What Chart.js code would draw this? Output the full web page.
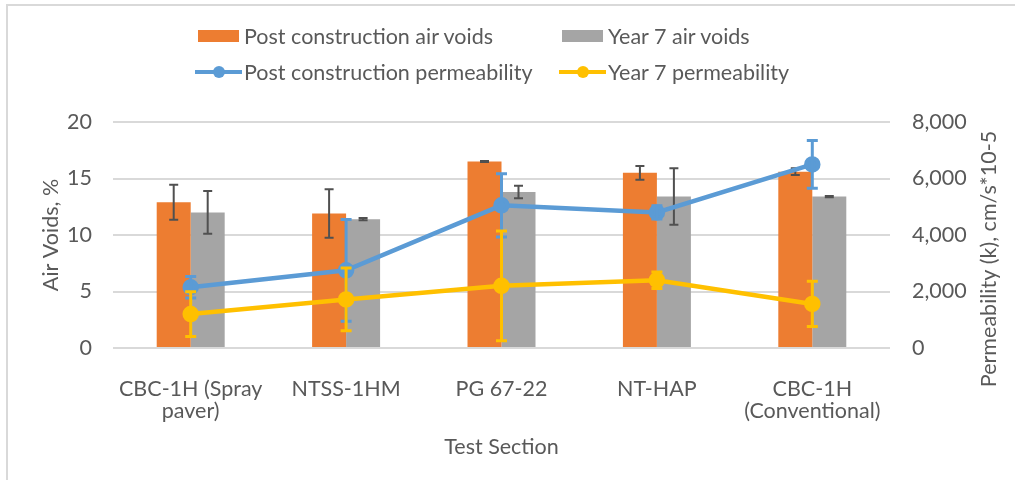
<!DOCTYPE html>
<html>
<head>
<meta charset="utf-8">
<script src="https://cdn.jsdelivr.net/npm/chart.js@4.4.1/dist/chart.umd.min.js"></script>
<style>
  body { margin: 0; background: #fff; }
  #wrap { position: relative; width: 1015px; height: 480px; overflow: hidden; }
  #frame { position: absolute; left: 6px; top: 4px; right: -4px; bottom: -4px;
           border-top: 2px solid #d9d9d9; border-left: 2px solid #d9d9d9; }
  #legend { position: absolute; left: 0; top: 0; font-family: Lato; font-size: 21.5px; color: #595959; }
  .item { position: absolute; display: flex; align-items: center; height: 26px; white-space: nowrap; }
  .box { width: 41px; height: 12px; margin: 0 5px 0 3px; }
  .ln { position: relative; width: 47px; height: 12px; margin-right: 2px; }
  .ln i { position: absolute; left: 0; right: 0; top: 4px; height: 4px; }
  .ln b { position: absolute; left: 18px; top: 0; width: 12px; height: 12px; border-radius: 50%; }
  canvas { position: absolute; left: 0; top: 0; }
</style>
</head>
<body>
<div id="wrap">
  <div id="frame"></div>
  <canvas id="chart" width="1015" height="480"></canvas>
  <div id="legend"></div>
</div>
<script>
// values
const categories = [['CBC-1H (Spray', 'paver)'], 'NTSS-1HM', 'PG 67-22', 'NT-HAP', ['CBC-1H', '(Conventional)']];
const postVoids = [12.9, 11.9, 16.5, 15.5, 15.6];
const postVoidsErr = [1.55, 2.15, 0.05, 0.6, 0.3];
const y7Voids = [12.0, 11.4, 13.8, 13.4, 13.4];
const y7VoidsErr = [1.9, 0.1, 0.55, 2.5, 0.05];
const postPerm = [2150, 2750, 5050, 4800, 6500];
const postPermErr = [380, 1800, 1120, 235, 845];
const y7Perm = [1200, 1720, 2200, 2400, 1560];
const y7PermErr = [790, 1110, 1940, 290, 800];
const voidTicks = [0, 5, 10, 15, 20];
const permTicks = [0, 2000, 4000, 6000, 8000];

const FONT = 'Lato';
const TEXT = '#595959';
const SIZE = 21.5;

// error bars drawn right after each dataset, so layering follows the datasets
const errorBars = {
    id: 'errorBars',
    afterDatasetDraw(chart, args) {
        const ds = chart.data.datasets[args.index];
        if (!ds.errors) return;
        const scale = chart.scales[ds.yAxisID];
        const ctx = chart.ctx;
        ctx.save();
        ctx.strokeStyle = ds.errorColor;
        ctx.lineWidth = ds.errorWidth;
        args.meta.data.forEach(function(el, i) {
            const v = ds.data[i], e = ds.errors[i], c = ds.errorCap;
            const top = scale.getPixelForValue(v + e);
            const bot = scale.getPixelForValue(v - e);
            ctx.beginPath();
            ctx.moveTo(el.x, top); ctx.lineTo(el.x, bot);
            ctx.moveTo(el.x - c, top); ctx.lineTo(el.x + c, top);
            ctx.moveTo(el.x - c, bot); ctx.lineTo(el.x + c, bot);
            ctx.stroke();
        });
        ctx.restore();
    }
};

// right axis title reads bottom-to-top like the left one
const rightTitle = {
    id: 'rightTitle',
    afterDraw(chart) {
        const s = chart.scales.y1;
        const ctx = chart.ctx;
        ctx.save();
        ctx.translate(s.right - 26, (s.top + s.bottom) / 2 + 24);
        ctx.rotate(-Math.PI / 2);
        ctx.font = SIZE + 'px ' + FONT;
        ctx.fillStyle = TEXT;
        ctx.textAlign = 'center';
        ctx.textBaseline = 'middle';
        ctx.fillText(s.options.titleText, 0, 0);
        ctx.restore();
    }
};

const chart = new Chart(document.getElementById('chart'), {
    type: 'bar',
    data: {
        labels: categories,
        datasets: [
            {
                label: 'Post construction air voids',
                data: postVoids,
                errors: postVoidsErr,
                errorColor: '#505050', errorWidth: 2, errorCap: 4.5,
                backgroundColor: '#ED7D31',
                yAxisID: 'y',
                order: 2
            },
            {
                label: 'Year 7 air voids',
                data: y7Voids,
                errors: y7VoidsErr,
                errorColor: '#505050', errorWidth: 2, errorCap: 4.5,
                backgroundColor: '#A5A5A5',
                yAxisID: 'y',
                order: 2
            },
            {
                type: 'line',
                label: 'Post construction permeability',
                data: postPerm,
                errors: postPermErr,
                errorColor: '#5B9BD5', errorWidth: 3, errorCap: 5.5,
                borderColor: '#5B9BD5',
                backgroundColor: '#5B9BD5',
                borderWidth: 4.5,
                pointRadius: 6,
                yAxisID: 'y1',
                order: 1
            },
            {
                type: 'line',
                label: 'Year 7 permeability',
                data: y7Perm,
                errors: y7PermErr,
                errorColor: '#FFC000', errorWidth: 3, errorCap: 5.5,
                borderColor: '#FFC000',
                backgroundColor: '#FFC000',
                borderWidth: 4.5,
                pointRadius: 6,
                yAxisID: 'y1',
                order: 0
            }
        ]
    },
    options: {
        responsive: false,
        animation: false,
        layout: { padding: { top: 122, left: 0, right: 0, bottom: 0 } },
        datasets: {
            bar: { categoryPercentage: 0.4375, barPercentage: 1 }
        },
        plugins: {
            legend: { display: false },
            tooltip: { enabled: false }
        },
        scales: {
            x: {
                grid: { display: false },
                border: { display: false },
                ticks: {
                    color: TEXT, font: { family: FONT, size: SIZE, lineHeight: 1.03 },
                    maxRotation: 0, autoSkip: false, padding: 22
                },
                title: {
                    display: true, text: 'Test Section', color: TEXT,
                    font: { family: FONT, size: SIZE }, padding: { top: 0, bottom: 20 }
                },
                afterFit(s) { s.height = 132; }
            },
            y: {
                position: 'left',
                min: voidTicks[0], max: voidTicks[voidTicks.length - 1],
                afterBuildTicks(s) { s.ticks = voidTicks.map(v => ({ value: v })); },
                grid: { color: '#d9d9d9', lineWidth: 2, drawTicks: false },
                border: { display: false },
                ticks: { color: TEXT, font: { family: FONT, size: SIZE }, padding: 21 },
                title: {
                    display: true, text: 'Air Voids, %', color: TEXT,
                    font: { family: FONT, size: SIZE }, padding: { top: 38, bottom: 0 }
                },
                afterFit(s) { s.width = 113; }
            },
            y1: {
                position: 'right',
                min: permTicks[0], max: permTicks[permTicks.length - 1],
                afterBuildTicks(s) { s.ticks = permTicks.map(v => ({ value: v })); },
                grid: { display: false, drawTicks: false },
                border: { display: false },
                ticks: {
                    color: TEXT, font: { family: FONT, size: SIZE }, padding: 22,
                    callback: v => v.toLocaleString('en-US')
                },
                titleText: 'Permeability (k), cm/s*10-5',
                afterFit(s) { s.width = 125; }
            }
        }
    },
    plugins: [errorBars, rightTitle]
});

// legend in two rows of two, built from the datasets
const legend = document.getElementById('legend');
const cols = [195, 559];
const rows = [36, 72];
chart.data.datasets.forEach(function(ds, i) {
    const item = document.createElement('div');
    item.className = 'item';
    item.style.left = cols[i % 2] + 'px';
    item.style.top = (rows[Math.floor(i / 2)] - 13) + 'px';
    let mark;
    if (ds.type === 'line') {
        mark = document.createElement('span');
        mark.className = 'ln';
        mark.innerHTML = '<i style="background:' + ds.borderColor + '"></i><b style="background:' + ds.borderColor + '"></b>';
    } else {
        mark = document.createElement('span');
        mark.className = 'box';
        mark.style.background = ds.backgroundColor;
    }
    const txt = document.createElement('span');
    txt.textContent = ds.label;
    item.appendChild(mark);
    item.appendChild(txt);
    legend.appendChild(item);
});
</script>
</body>
</html>
